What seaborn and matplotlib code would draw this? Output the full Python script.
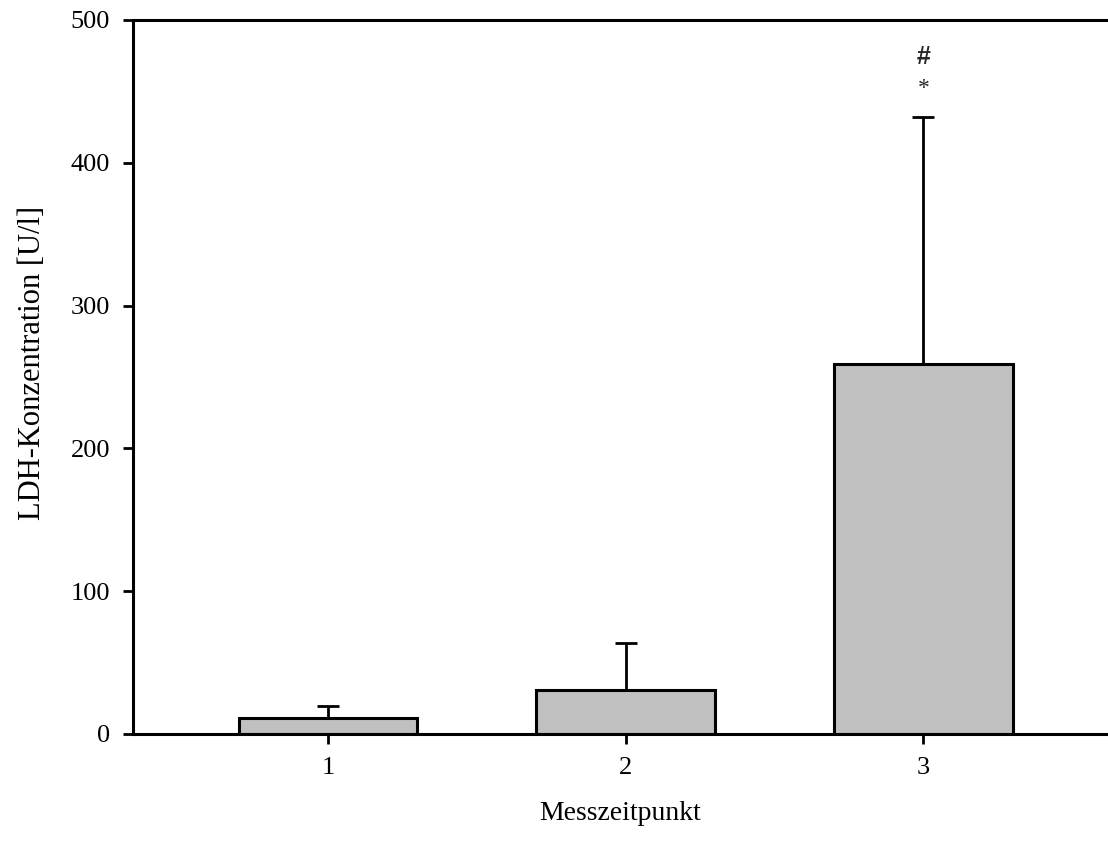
import matplotlib.pyplot as plt
import pandas as pd
import seaborn as sns

# values
zeitpunkte = ["1", "2", "3"]
mittelwerte = [11.2, 30.8, 259.0]
standardabw = [8.4, 32.9, 173.0]
signif_hash = ["", "", "#"]
signif_star = ["", "", "*"]

sns.set_theme(style="white")
plt.rcParams["font.family"] = ["Liberation Serif", "DejaVu Serif"]

df = pd.DataFrame({"Messzeitpunkt": zeitpunkte, "LDH": mittelwerte})

fig = plt.figure(figsize=(11.08, 8.52), dpi=100)
ax = fig.add_axes([133 / 1108, (852 - 734) / 852, (1108 - 133) / 1108, 714 / 852])

sns.barplot(data=df, x="Messzeitpunkt", y="LDH", color="#c0c0c0", saturation=1,
            width=0.6, edgecolor="black", linewidth=2.2, errorbar=None, ax=ax)

# only the upper half of the error bar is shown
ax.errorbar(range(len(zeitpunkte)), mittelwerte,
            yerr=[[0] * len(standardabw), standardabw],
            fmt="none", ecolor="black", elinewidth=2.0, capsize=8, capthick=2.0, zorder=1)

for i in range(len(zeitpunkte)):
    top = mittelwerte[i] + standardabw[i]
    if signif_star[i]:
        ax.text(i, top + 20, signif_star[i], ha="center", va="center", fontsize=17)
    if signif_hash[i]:
        ax.text(i, top + 42, signif_hash[i], ha="center", va="center",
                fontsize=18, fontweight="bold", family=["Liberation Sans", "DejaVu Sans"])

ax.set_xlim(-0.655, 2.62)
ax.set_ylim(0, 500)
ax.set_yticks(range(0, 501, 100))

for side in ["top", "left", "bottom"]:
    ax.spines[side].set_visible(True)
    ax.spines[side].set_color("black")
    ax.spines[side].set_linewidth(2.2)
ax.spines["right"].set_visible(False)

ax.tick_params(axis="both", bottom=True, left=True, direction="out", length=7.5,
               width=2.0, color="black", labelsize=19, labelcolor="black")
ax.tick_params(axis="y", pad=9)
ax.tick_params(axis="x", pad=9)
ax.set_xlabel("Messzeitpunkt", fontsize=20, color="black", labelpad=16)
ax.set_ylabel("LDH-Konzentration [U/l]", fontsize=22, color="black")
ax.yaxis.set_label_coords(-0.088, 0.52)
ax.grid(False)

fig.savefig("out.png", dpi=100)
